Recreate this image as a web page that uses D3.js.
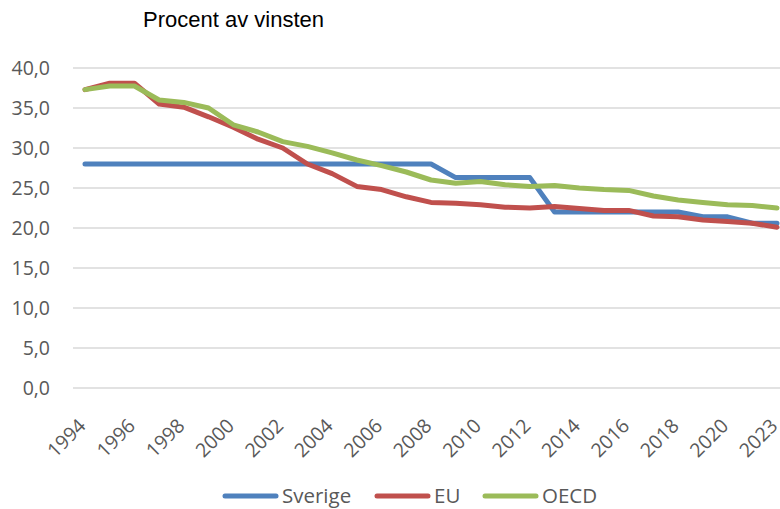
<!DOCTYPE html>
<html>
<head>
<meta charset="utf-8">
<script src="https://cdn.jsdelivr.net/npm/d3@7"></script>
<style>
  body { margin: 0; background: #fff; }
  svg { display: block; }
</style>
</head>
<body>
<div id="chart"></div>
<script>
// data
var years = ["1994","1995","1996","1997","1998","1999","2000","2001","2002","2003",
             "2004","2005","2006","2007","2008","2009","2010","2011","2012","2013",
             "2014","2015","2016","2017","2018","2019","2020","2021","2023"];
var sverige = [28,28,28,28,28,28,28,28,28,28,
               28,28,28,28,28,26.3,26.3,26.3,26.3,22,
               22,22,22,22,22,21.4,21.4,20.6,20.6];
var eu = [37.3,38.1,38.1,35.5,35.1,33.9,32.6,31.1,30.0,28.0,
          26.8,25.2,24.8,23.9,23.2,23.1,22.9,22.6,22.5,22.7,
          22.45,22.2,22.2,21.5,21.4,21.0,20.8,20.6,20.1];
var oecd = [37.3,37.75,37.75,36.0,35.7,35.0,32.9,32.0,30.8,30.2,
            29.4,28.5,27.8,27.0,26.0,25.6,25.8,25.4,25.2,25.3,
            25.0,24.8,24.7,24.0,23.5,23.2,22.9,22.8,22.5];
var yTicks = [0,5,10,15,20,25,30,35,40];
var seriesNames = ["Sverige","EU","OECD"];
var seriesColors = ["#4f81bd","#c0504d","#9bbb59"];

var width = 780, height = 509;
var font = "'Open Sans', sans-serif";

var svg = d3.select("#chart")
  .append("svg")
    .attr("width", width)
    .attr("height", height);

// scales
var x = d3.scalePoint()
  .domain(years)
  .range([85, 777]);
var y = d3.scaleLinear()
  .domain([0, 40])
  .range([388, 68]);

// title
svg.append("text")
  .attr("x", 143)
  .attr("y", 27)
  .style("font-family", "'Liberation Sans Narrow', 'Liberation Sans', sans-serif")
  .style("font-size", "22px")
  .style("fill", "#000")
  .text("Procent av vinsten");

// gridlines
svg.selectAll("line.grid")
  .data(yTicks)
  .enter()
  .append("line")
    .attr("class", "grid")
    .attr("x1", 73)
    .attr("x2", 780)
    .attr("y1", function(d) { return y(d); })
    .attr("y2", function(d) { return y(d); })
    .attr("stroke", "#d9d9d9")
    .attr("stroke-width", 1.5);

// y labels
var fmt = function(d) { return d3.format(".1f")(d).replace(".", ","); };
svg.selectAll("text.ylab")
  .data(yTicks)
  .enter()
  .append("text")
    .attr("class", "ylab")
    .attr("x", 50)
    .attr("y", function(d) { return y(d); })
    .attr("dy", "0.36em")
    .attr("text-anchor", "end")
    .style("font-family", font)
    .style("font-size", "19.5px")
    .style("fill", "#595959")
    .text(fmt);

// x labels, every second category
svg.selectAll("text.xlab")
  .data(years.filter(function(d, i) { return i % 2 === 0; }))
  .enter()
  .append("text")
    .attr("class", "xlab")
    .attr("text-anchor", "end")
    .attr("transform", function(d) {
      return "translate(" + (x(d) + 2) + ",427)rotate(-45)";
    })
    .style("font-family", font)
    .style("font-size", "19.5px")
    .style("fill", "#595959")
    .text(function(d) { return d; });

// lines
var allSeries = [sverige, eu, oecd];
var line = d3.line()
  .x(function(d, i) { return x(years[i]); })
  .y(function(d) { return y(d); });

svg.selectAll("path.series")
  .data(allSeries)
  .enter()
  .append("path")
    .attr("class", "series")
    .attr("d", line)
    .attr("fill", "none")
    .attr("stroke", function(d, i) { return seriesColors[i]; })
    .attr("stroke-width", 5)
    .attr("stroke-linejoin", "round")
    .attr("stroke-linecap", "round");

// legend
var legendX = [225, 377, 485];
var leg = svg.selectAll("g.leg")
  .data(seriesNames)
  .enter()
  .append("g")
    .attr("class", "leg")
    .attr("transform", function(d, i) { return "translate(" + legendX[i] + ",496)"; });
leg.append("line")
  .attr("x1", 0)
  .attr("x2", 51)
  .attr("stroke", function(d, i) { return seriesColors[i]; })
  .attr("stroke-width", 5)
  .attr("stroke-linecap", "round");
leg.append("text")
  .attr("x", 57)
  .attr("dy", "0.36em")
  .style("font-family", font)
  .style("font-size", "20.5px")
  .style("fill", "#595959")
  .text(function(d) { return d; });
</script>
</body>
</html>
